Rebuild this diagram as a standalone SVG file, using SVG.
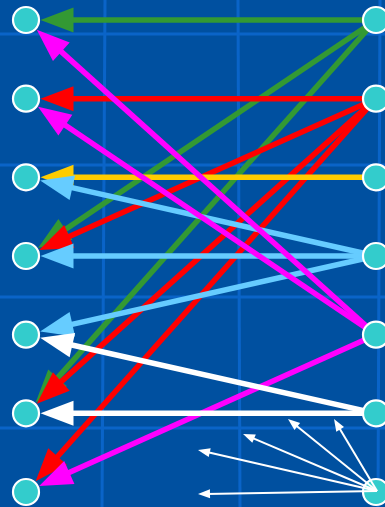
<svg xmlns="http://www.w3.org/2000/svg" width="385" height="507" viewBox="0 0 385 507">
<style>
.grid{stroke:#0a64c8;stroke-width:3}
.node{fill:#33cccc;stroke:#ffffff;stroke-width:2.2}
.e{fill:none;stroke-width:5.5}
.g{stroke:#339933}.r{stroke:#ff0000}.y{stroke:#ffcc00}.b{stroke:#66ccff}.m{stroke:#ff00ff}.w{stroke:#ffffff}
.t{fill:none;stroke:#ffffff;stroke-width:2}
</style>
<defs>
<marker id="ag" markerUnits="userSpaceOnUse" orient="auto" refX="0" refY="0" markerWidth="40" markerHeight="30" viewBox="-6 -14 40 28" overflow="visible"><path d="M-5,-12.5 L28,0 L-5,12.5 Z" fill="#339933"/></marker>
<marker id="ar" markerUnits="userSpaceOnUse" orient="auto" refX="0" refY="0" markerWidth="40" markerHeight="30" viewBox="-6 -14 40 28" overflow="visible"><path d="M-5,-12.5 L28,0 L-5,12.5 Z" fill="#ff0000"/></marker>
<marker id="ay" markerUnits="userSpaceOnUse" orient="auto" refX="0" refY="0" markerWidth="40" markerHeight="30" viewBox="-6 -14 40 28" overflow="visible"><path d="M-5,-12.5 L28,0 L-5,12.5 Z" fill="#ffcc00"/></marker>
<marker id="ab" markerUnits="userSpaceOnUse" orient="auto" refX="0" refY="0" markerWidth="40" markerHeight="30" viewBox="-6 -14 40 28" overflow="visible"><path d="M-5,-12.5 L28,0 L-5,12.5 Z" fill="#66ccff"/></marker>
<marker id="am" markerUnits="userSpaceOnUse" orient="auto" refX="0" refY="0" markerWidth="40" markerHeight="30" viewBox="-6 -14 40 28" overflow="visible"><path d="M-5,-12.5 L28,0 L-5,12.5 Z" fill="#ff00ff"/></marker>
<marker id="aw" markerUnits="userSpaceOnUse" orient="auto" refX="0" refY="0" markerWidth="40" markerHeight="30" viewBox="-6 -14 40 28" overflow="visible"><path d="M-5,-12.5 L28,0 L-5,12.5 Z" fill="#ffffff"/></marker>
<marker id="at" markerUnits="userSpaceOnUse" orient="auto" refX="0" refY="0" markerWidth="16" markerHeight="12" viewBox="-4 -6 16 12" overflow="visible"><path d="M-4,-4.5 L8,0 L-4,4.5 Z" fill="#ffffff"/></marker>
</defs>
<rect x="0" y="0" width="385" height="507" fill="#0050a0"/>
<g id="grid">
<line class="grid" x1="0" y1="34" x2="385" y2="34"/>
<line class="grid" x1="0" y1="165" x2="385" y2="165"/>
<line class="grid" x1="0" y1="297" x2="385" y2="297"/>
<line class="grid" x1="0" y1="428" x2="385" y2="428"/>
<line class="grid" x1="105" y1="0" x2="102" y2="507"/>
<line class="grid" x1="238" y1="0" x2="240" y2="507"/>
<line class="grid" x1="380" y1="0" x2="378" y2="507"/>
</g>
<g id="connectors">
<line class="e g" x1="376" y1="20" x2="68.5" y2="20" marker-end="url(#ag)"/>
<line class="e g" x1="376" y1="20" x2="61.24" y2="232.24" marker-end="url(#ag)"/>
<line class="e g" x1="376" y1="20" x2="54.25" y2="381.58" marker-end="url(#ag)"/>
<line class="e r" x1="376" y1="98.67" x2="68.5" y2="98.67" marker-end="url(#ar)"/>
<line class="e r" x1="376" y1="98.67" x2="64.76" y2="238.57" marker-end="url(#ar)"/>
<line class="e r" x1="376" y1="98.67" x2="57.6" y2="384.92" marker-end="url(#ar)"/>
<line class="e r" x1="376" y1="98.67" x2="54.25" y2="460.25" marker-end="url(#ar)"/>
<line class="e y" x1="376" y1="177.33" x2="68.5" y2="177.33" marker-end="url(#ay)"/>
<line class="e b" x1="376" y1="256" x2="67.47" y2="186.65" marker-end="url(#ab)"/>
<line class="e b" x1="376" y1="256" x2="68.5" y2="256" marker-end="url(#ab)"/>
<line class="e b" x1="376" y1="256" x2="67.47" y2="325.35" marker-end="url(#ab)"/>
<line class="e m" x1="376" y1="334.67" x2="57.6" y2="48.41" marker-end="url(#am)"/>
<line class="e m" x1="376" y1="334.67" x2="61.24" y2="122.43" marker-end="url(#am)"/>
<line class="e m" x1="376" y1="334.67" x2="64.76" y2="474.57" marker-end="url(#am)"/>
<line class="e w" x1="376" y1="413.33" x2="67.47" y2="343.99" marker-end="url(#aw)"/>
<line class="e w" x1="376" y1="413.33" x2="68.5" y2="413.33" marker-end="url(#aw)"/>
</g>
<g id="nodes">
<g id="L0"><circle class="node" cx="26" cy="20" r="13"/></g>
<g id="L1"><circle class="node" cx="26" cy="98.67" r="13"/></g>
<g id="L2"><circle class="node" cx="26" cy="177.33" r="13"/></g>
<g id="L3"><circle class="node" cx="26" cy="256" r="13"/></g>
<g id="L4"><circle class="node" cx="26" cy="334.67" r="13"/></g>
<g id="L5"><circle class="node" cx="26" cy="413.33" r="13"/></g>
<g id="L6"><circle class="node" cx="26" cy="492" r="13"/></g>
<g id="R0"><circle class="node" cx="376" cy="20" r="13"/></g>
<g id="R1"><circle class="node" cx="376" cy="98.67" r="13"/></g>
<g id="R2"><circle class="node" cx="376" cy="177.33" r="13"/></g>
<g id="R3"><circle class="node" cx="376" cy="256" r="13"/></g>
<g id="R4"><circle class="node" cx="376" cy="334.67" r="13"/></g>
<g id="R5"><circle class="node" cx="376" cy="413.33" r="13"/></g>
<g id="R6"><circle class="node" cx="376" cy="492" r="13"/></g>
</g>
<g id="fan-connectors">
<line class="t" x1="377" y1="491" x2="205.8" y2="451.8" marker-end="url(#at)"/>
<line class="t" x1="377" y1="491" x2="250.4" y2="437.1" marker-end="url(#at)"/>
<line class="t" x1="377" y1="491" x2="294.2" y2="424" marker-end="url(#at)"/>
<line class="t" x1="377" y1="491" x2="338.1" y2="425.9" marker-end="url(#at)"/>
<line class="t" x1="377" y1="491" x2="206" y2="493.9" marker-end="url(#at)"/>
</g>
</svg>
